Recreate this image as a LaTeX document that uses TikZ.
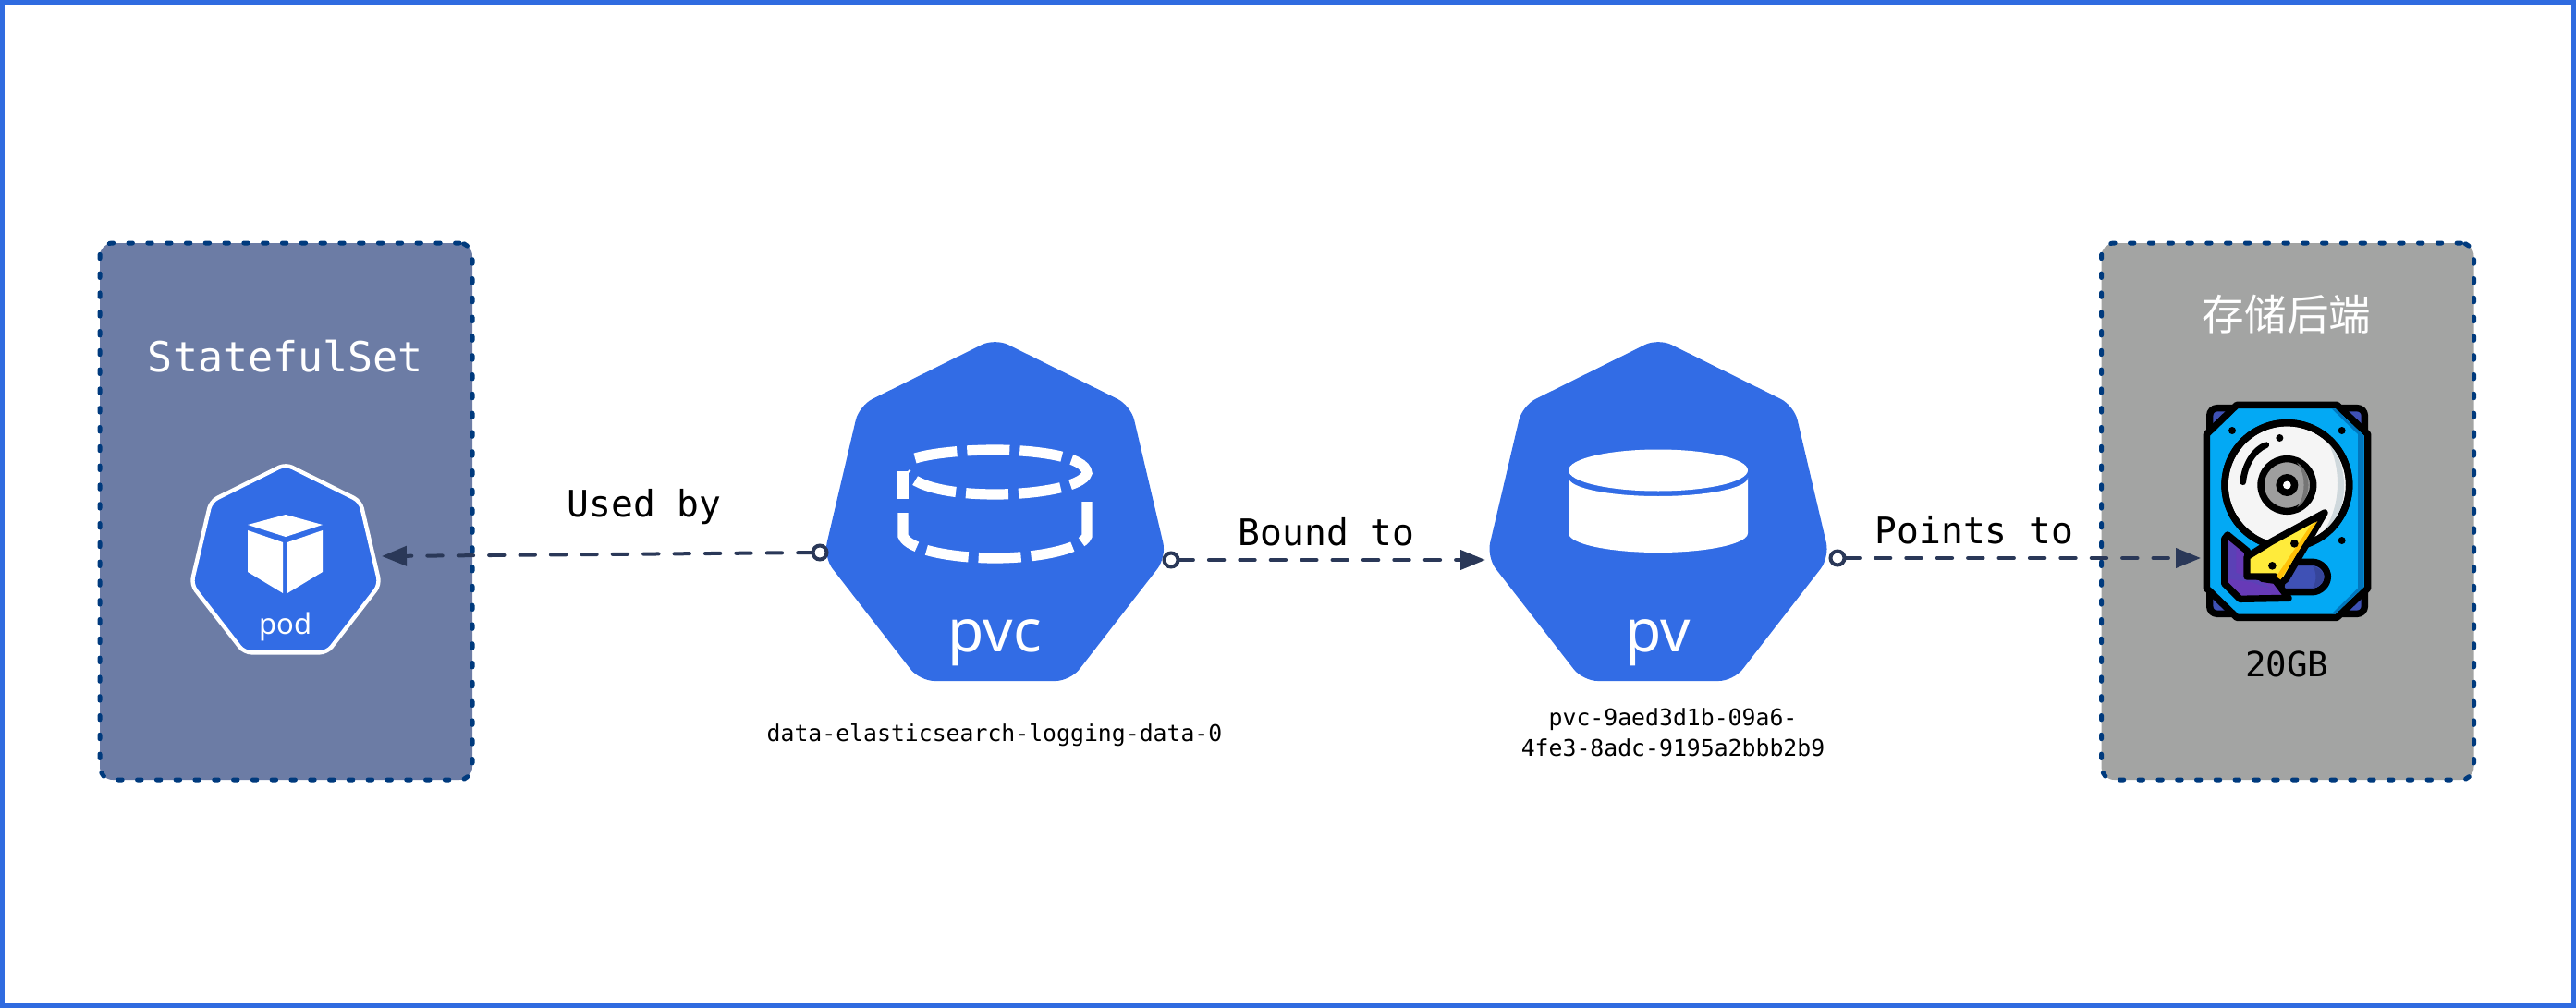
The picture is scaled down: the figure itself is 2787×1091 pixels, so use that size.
\documentclass[tikz,border=0pt]{standalone}
\usepackage{fontspec}
\setmainfont{Noto Sans}
\setmonofont{DejaVu Sans Mono}
\newfontfamily\cjkfont{Noto Sans CJK SC}
\usetikzlibrary{arrows.meta}
\definecolor{kblue}{HTML}{326CE5}
\definecolor{frameblue}{HTML}{2F6BE0}
\definecolor{stsfill}{HTML}{6C7CA5}
\definecolor{stgfill}{HTML}{A3A4A3}
\definecolor{dashblue}{HTML}{003A7D}
\definecolor{conn}{HTML}{2A3858}
\definecolor{hddblue}{HTML}{03A9F4}
\definecolor{hddband}{HTML}{0277BD}
\definecolor{hddnavy}{HTML}{3F51B5}
\definecolor{hddpurple}{HTML}{673AB7}
\definecolor{hddyellow}{HTML}{FFEB3B}
\definecolor{hddamber}{HTML}{FFC107}
\definecolor{hddplate}{HTML}{F5F5F5}
\definecolor{hddshade}{HTML}{CFD8DC}
\definecolor{hddhub}{HTML}{9E9E9E}
\definecolor{hddhubd}{HTML}{757575}
\tikzset{
  groupbox/.style={draw=dashblue,line width=2.5pt,line cap=round,dash pattern=on 2.2pt off 8.2pt,rounded corners=7pt,minimum width=201.5pt,minimum height=290.5pt,inner sep=0pt,outer sep=0pt},
  conline/.style={draw=conn,line width=2pt,line cap=round,dash pattern=on 8.2pt off 8.5pt,-{Triangle[length=13.5pt,width=10.5pt]}},
  portdot/.style={circle,draw=conn,fill=white,line width=2pt,minimum size=7.5pt,inner sep=0pt,outer sep=0pt},
  heptbig/.style={fill=kblue,rounded corners=8pt},
  heptsmall/.style={fill=kblue,draw=white,line width=2.2pt,rounded corners=4pt},
  biglabel/.style={text=white,font=\fontsize{32pt}{32pt}\selectfont,anchor=base,inner sep=0pt},
  podlabel/.style={text=white,font=\fontsize{15.5pt}{15.5pt}\selectfont,anchor=base,inner sep=0pt},
  edgelabel/.style={text=black,font=\ttfamily\fontsize{19.8pt}{19.8pt}\selectfont,anchor=base,inner sep=0pt},
  smalllabel/.style={text=black,font=\ttfamily\fontsize{12.4pt}{12.4pt}\selectfont,anchor=base,inner sep=0pt},
  titlelabel/.style={text=white,font=\ttfamily\fontsize{22.5pt}{22.5pt}\selectfont,anchor=base,inner sep=0pt},
  hddline/.style={draw=black,line width=3.7pt,line join=round,line cap=round},
}
\newcommand{\heptpath}{(0,-184) -- (147,-111) -- (185.5,53) -- (81.5,187) -- (-81.5,187) -- (-185.5,53) -- (-147,-111) -- cycle}
\begin{document}
\begin{tikzpicture}[x=0.5pt,y=-0.5pt]
\useasboundingbox (0,0) rectangle (2787,1091);
\draw[frameblue,line width=2.2pt] (2.5,2.5) rectangle (2784.5,1088.5);
% group boxes
\node[groupbox,fill=stsfill] (sts) at (309.5,553.5) {};
\node[groupbox,fill=stgfill] (stg) at (2475,553.5) {};
\node[titlelabel] (ststitle) at (309,402) {StatefulSet};
\node[text=white,font=\cjkfont\fontsize{22.8pt}{22.8pt}\selectfont,inner sep=0pt] (stgtitle) at (2474,340) {存储后端};
% pod
\begin{scope}[shift={(309,603.5)},x=0.275pt,y=-0.275pt]
\path[heptsmall] \heptpath;
\end{scope}
\fill[white] (309,557) -- (349,568) -- (309,581) -- (268,568) -- cycle;
\fill[white] (268,574) -- (306,587) -- (306,642) -- (268,619) -- cycle;
\fill[white] (349,574) -- (311,587) -- (311,642) -- (349,619) -- cycle;
\node[podlabel] (podtext) at (309,686) {pod};
% pvc
\begin{scope}[shift={(1076.5,550)}]
\path[heptbig] \heptpath;
\end{scope}
\draw[white,line width=5.6pt,dash pattern=on 23pt off 5.5pt] (990,496) .. controls (1010,490) and (1045,487) .. (1077,487) .. controls (1115,487) and (1175,493) .. (1176,512) .. controls (1172,527) and (1120,535) .. (1077,535) .. controls (1040,535) and (995,530) .. (980,512);
\draw[white,line width=5.6pt,dash pattern=on 23pt off 5.5pt] (1176,543) -- (1176,580) .. controls (1170,595) and (1120,604) .. (1077,604) .. controls (1030,604) and (982,595) .. (977,580) -- (977,555);
\draw[white,line width=5.6pt] (977,510) -- (977,540);
\node[biglabel] (pvctext) at (1076,705) {pvc};
% pv
\begin{scope}[shift={(1794,550)}]
\path[heptbig] \heptpath;
\end{scope}
\fill[white] (1794,509) ellipse [x radius=97,y radius=22.5];
\fill[white] (1697,517) -- (1697,577) arc [start angle=180,end angle=360,x radius=97,y radius=-21] -- (1891,517) arc [start angle=0,end angle=180,x radius=97,y radius=20] -- cycle;
\node[biglabel] (pvtext) at (1794,705) {pv};
% hdd icon
\begin{scope}[shift={(2370,420)},x=0.16667pt,y=-0.16667pt]
\filldraw[hddline,fill=hddnavy,rounded corners=4pt] (62,65) rectangle (565,733);
\filldraw[hddline,fill=hddblue] (150,55) -- (475,55) -- (575,150) -- (575,650) -- (475,745) -- (150,745) -- (52,650) -- (52,150) -- cycle;
\fill[hddband] (458,67) -- (470,67) -- (563,155) -- (563,645) -- (470,733) -- (458,733) -- (543,650) -- (543,150) -- cycle;
\filldraw[hddline,fill=hddplate] (313,315) circle [radius=202];
\fill[hddshade] (440,165) .. controls (500,225) and (520,340) .. (470,430) -- (415,490) .. controls (490,400) and (495,260) .. (440,165) -- cycle;
\draw[hddline] (313,315) circle [radius=202];
\filldraw[hddline,fill=hddhub] (313,315) circle [radius=85];
\fill[hddhubd] (345,242) .. controls (395,270) and (395,360) .. (345,388) .. controls (375,350) and (375,280) .. (345,242) -- cycle;
\fill[black] (313,315) circle [radius=36];
\fill[white] (313,315) circle [radius=13];
\draw[hddline,line width=3.4pt] (245,185) .. controls (205,200) and (175,250) .. (170,305);
\foreach \sx/\sy in {135/138,491/138,491/495,289/162}{\fill[black] (\sx,\sy) circle [radius=12];}
\filldraw[hddline,fill=hddnavy] (310,565) -- (395,565) .. controls (425,565) and (445,590) .. (445,612) .. controls (445,640) and (420,662) .. (395,662) -- (290,662) -- cycle;
\fill[hddnavy!85!black] (395,577) .. controls (420,585) and (435,600) .. (433,615) .. controls (432,630) and (420,645) .. (395,650) .. controls (410,630) and (410,595) .. (395,577) -- cycle;
\filldraw[hddline,fill=hddpurple] (120,477) -- (185,530) -- (185,612) -- (275,625) -- (318,682) -- (160,685) -- (110,635) -- (110,490) -- cycle;
\fill[hddpurple!70!hddnavy] (122,497) -- (148,518) -- (148,600) -- (222,625) -- (265,655) -- (200,630) -- (122,620) -- cycle;
\filldraw[hddline,fill=hddyellow] (435,405) -- (260,500) -- (183,548) -- (183,612) -- (275,612) -- (290,635) -- (310,620) -- cycle;
\fill[hddamber] (412,432) -- (388,448) -- (278,612) -- (292,622) -- cycle;
\fill[black] (337,505) circle [radius=13];
\fill[black] (265,577) circle [radius=13];
\end{scope}
\node[text=black,font=\ttfamily\fontsize{18.7pt}{18.7pt}\selectfont,anchor=base,inner sep=0pt] (sizetext) at (2474,732) {20GB};
% captions
\node[smalllabel] (pvcname) at (1076,802) {data-elasticsearch-logging-data-0};
\node[smalllabel] (pvname1) at (1810,785) {pvc-9aed3d1b-09a6-};
\node[smalllabel] (pvname2) at (1810,818) {4fe3-8adc-9195a2bbb2b9};
% connectors
\coordinate (podin) at (413,602);
\coordinate (pvin) at (1607,606);
\coordinate (hddin) at (2381,604);
\node[portdot,draw=none,fill=none] (p1) at (887,598) {};
\node[portdot,draw=none,fill=none] (p2) at (1267,606) {};
\node[portdot,draw=none,fill=none] (p3) at (1988,604) {};
\draw[conline] (p1) -- (podin);
\draw[conline] (p2) -- (pvin);
\draw[conline] (p3) -- (hddin);
\node[portdot] (p1b) at (p1) {};
\node[portdot] (p2b) at (p2) {};
\node[portdot] (p3b) at (p3) {};
\node[edgelabel] (lbl1) at (697,559) {Used by};
\node[edgelabel] (lbl2) at (1435,590) {Bound to};
\node[edgelabel] (lbl3) at (2136,588) {Points to};
\end{tikzpicture}
\end{document}
